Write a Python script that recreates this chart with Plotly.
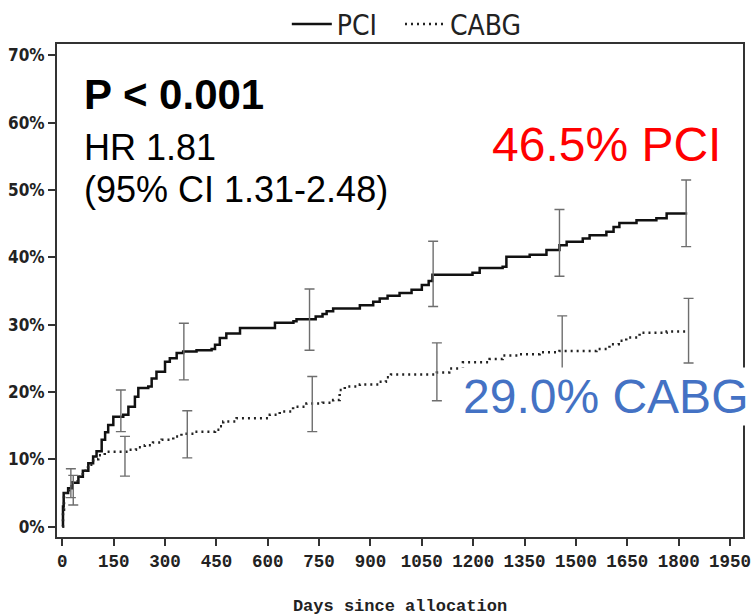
import plotly.graph_objects as go

# Cumulative event rate (%) by days since allocation, step curves
pci_days = [0, 2, 4, 17, 30, 47, 60, 76, 90, 100, 115, 125, 134, 149, 178, 193, 212, 222,
            251, 261, 275, 300, 314, 334, 353, 392, 436, 446, 460, 479, 519, 621, 675, 684,
            740, 760, 772, 791, 869, 908, 927, 950, 985, 1020, 1050, 1070, 1081, 1198, 1219,
            1286, 1297, 1365, 1414, 1452, 1473, 1520, 1540, 1589, 1610, 1627, 1677, 1735,
            1765, 1825]
pci_pct = [0.0, 3.0, 5.0, 5.7, 6.5, 7.4, 8.3, 9.4, 10.4, 11.2, 12.9, 14.0, 15.1, 16.3, 16.6,
           17.8, 19.3, 20.6, 20.8, 22.0, 23.0, 24.5, 25.0, 25.8, 26.0, 26.2, 26.4, 27.0, 28.0,
           28.7, 29.5, 30.3, 30.5, 30.8, 31.2, 31.6, 32.0, 32.4, 32.9, 33.4, 33.9, 34.3, 34.7,
           35.2, 35.9, 36.5, 37.4, 37.7, 38.4, 38.6, 40.1, 40.4, 41.1, 41.8, 42.3, 42.8, 43.3,
           43.8, 44.5, 45.1, 45.5, 45.8, 46.5, 46.5]

cabg_days = [0, 2, 5, 10, 20, 30, 45, 60, 75, 90, 105, 124, 192, 215, 241, 265, 290, 324,
             348, 387, 446, 460, 470, 509, 606, 635, 674, 713, 760, 791, 810, 825, 869, 923,
             945, 960, 1094, 1130, 1170, 1248, 1286, 1335, 1394, 1452, 1560, 1598, 1625, 1647,
             1686, 1765, 1825]
cabg_pct = [0.0, 2.5, 4.5, 5.2, 6.0, 6.6, 7.4, 8.3, 9.2, 10.0, 10.6, 11.1, 11.4, 11.8, 12.1,
            12.5, 12.9, 13.4, 13.8, 14.1, 14.4, 14.9, 15.6, 16.1, 16.6, 17.1, 17.8, 18.3, 18.4,
            18.8, 20.3, 20.8, 21.1, 21.5, 22.2, 22.6, 22.9, 23.5, 24.4, 24.9, 25.4, 25.6, 25.9,
            26.1, 26.4, 27.1, 27.6, 28.1, 28.8, 29.0, 29.0]

# 95% confidence intervals at yearly landmarks
pci_ci_days = [25, 171, 355, 722, 1083, 1452, 1822]
pci_ci_lo = [4.3, 14.1, 21.8, 26.2, 32.7, 37.2, 41.6]
pci_ci_hi = [8.6, 20.3, 30.2, 35.3, 42.4, 47.1, 51.5]

cabg_ci_days = [32, 183, 365, 730, 1094, 1460, 1829]
cabg_ci_lo = [3.2, 7.5, 10.2, 14.1, 18.7, 21.3, 24.3]
cabg_ci_hi = [7.6, 13.4, 17.2, 22.3, 27.3, 31.3, 33.9]

x_ticks = list(range(0, 1951, 150))
y_ticks = list(range(0, 71, 10))
y_tick_labels = [f"{v}%" for v in y_ticks]

NARROW = "DejaVu Sans Condensed, Liberation Sans Narrow, Liberation Sans, sans-serif"

fig = go.Figure()

fig.add_trace(go.Scatter(
    x=pci_days, y=pci_pct, name="PCI", mode="lines", legend="legend",
    line=dict(color="#111111", width=2.5, shape="hv"),
))
fig.add_trace(go.Scatter(
    x=cabg_days, y=cabg_pct, name="CABG", mode="lines", legend="legend2",
    line=dict(color="#222222", width=2.5, shape="hv", dash="2px,4px"),
))


def ci_trace(days, lo, hi):
    return go.Scatter(
        x=days, y=lo, mode="markers", showlegend=False, hoverinfo="skip",
        marker=dict(size=1, opacity=0),
        error_y=dict(type="data", symmetric=False,
                     array=[h - l for h, l in zip(hi, lo)],
                     arrayminus=[0] * len(lo),
                     color="#6e6e6e", thickness=1.4, width=5),
    )


fig.add_trace(ci_trace(pci_ci_days, pci_ci_lo, pci_ci_hi))
fig.add_trace(ci_trace(cabg_ci_days, cabg_ci_lo, cabg_ci_hi))

tick_mono = dict(family="Liberation Mono", size=17.5, color="#222222", weight="bold")
title_mono = dict(family="Liberation Mono", size=17, color="#222222", weight="bold")
tick_narrow = dict(family=NARROW, size=17, color="#222222", weight="bold")
legend_font = dict(family=NARROW, size=28, color="#222222")

fig.update_layout(
    width=751, height=616,
    margin=dict(l=57, r=8, t=44, b=79, autoexpand=False),
    paper_bgcolor="white", plot_bgcolor="white",
    showlegend=True,
    legend=dict(orientation="h", x=0.335, y=1.04, xanchor="left", yanchor="middle",
                font=legend_font, bgcolor="rgba(0,0,0,0)", itemwidth=40),
    legend2=dict(orientation="h", x=0.5, y=1.04, xanchor="left", yanchor="middle",
                 font=legend_font, bgcolor="rgba(0,0,0,0)", itemwidth=40),
    xaxis=dict(range=[-15.5, 1988], tickvals=x_ticks, ticks="outside", ticklen=7,
               tickwidth=1.5, tickcolor="#333333", showgrid=False, zeroline=False,
               showline=True, mirror=True, linewidth=2, linecolor="#333333",
               tickfont=tick_mono, ticklabeloverflow="allow",
               title=dict(text="Days since allocation", font=title_mono, standoff=29)),
    yaxis=dict(range=[-1.55, 71.7], tickvals=y_ticks, ticktext=y_tick_labels,
               ticks="outside", ticklen=7, tickwidth=1.5, tickcolor="#333333",
               showgrid=False, zeroline=False, showline=True, mirror=True, linewidth=2,
               linecolor="#333333", tickfont=tick_narrow),
)

fig.add_annotation(text="<b>P < 0.001</b>", xref="paper", yref="paper",
                   x=0.036, y=0.8966, xanchor="left", yanchor="middle", showarrow=False,
                   font=dict(family="Liberation Sans", size=42, color="black"))
fig.add_annotation(text="HR 1.81", xref="paper", yref="paper",
                   x=0.036, y=0.791, xanchor="left", yanchor="middle", showarrow=False,
                   font=dict(family="Liberation Sans", size=36, color="black"))
fig.add_annotation(text="(95% CI 1.31-2.48)", xref="paper", yref="paper",
                   x=0.036, y=0.704, xanchor="left", yanchor="middle", showarrow=False,
                   font=dict(family="Liberation Sans", size=36, color="black"))
fig.add_annotation(text="46.5% PCI", xref="paper", yref="paper",
                   x=0.630, y=0.797, xanchor="left", yanchor="middle", showarrow=False,
                   bgcolor="white", borderpad=2,
                   font=dict(family="Liberation Sans", size=48, color="#ff0000"))
fig.add_annotation(text="29.0% CABG", xref="paper", yref="paper",
                   x=0.587, y=0.284, xanchor="left", yanchor="middle", showarrow=False,
                   bgcolor="white", borderpad=2,
                   font=dict(family="Liberation Sans", size=48, color="#4472c4"))

fig.write_html("out.html")
